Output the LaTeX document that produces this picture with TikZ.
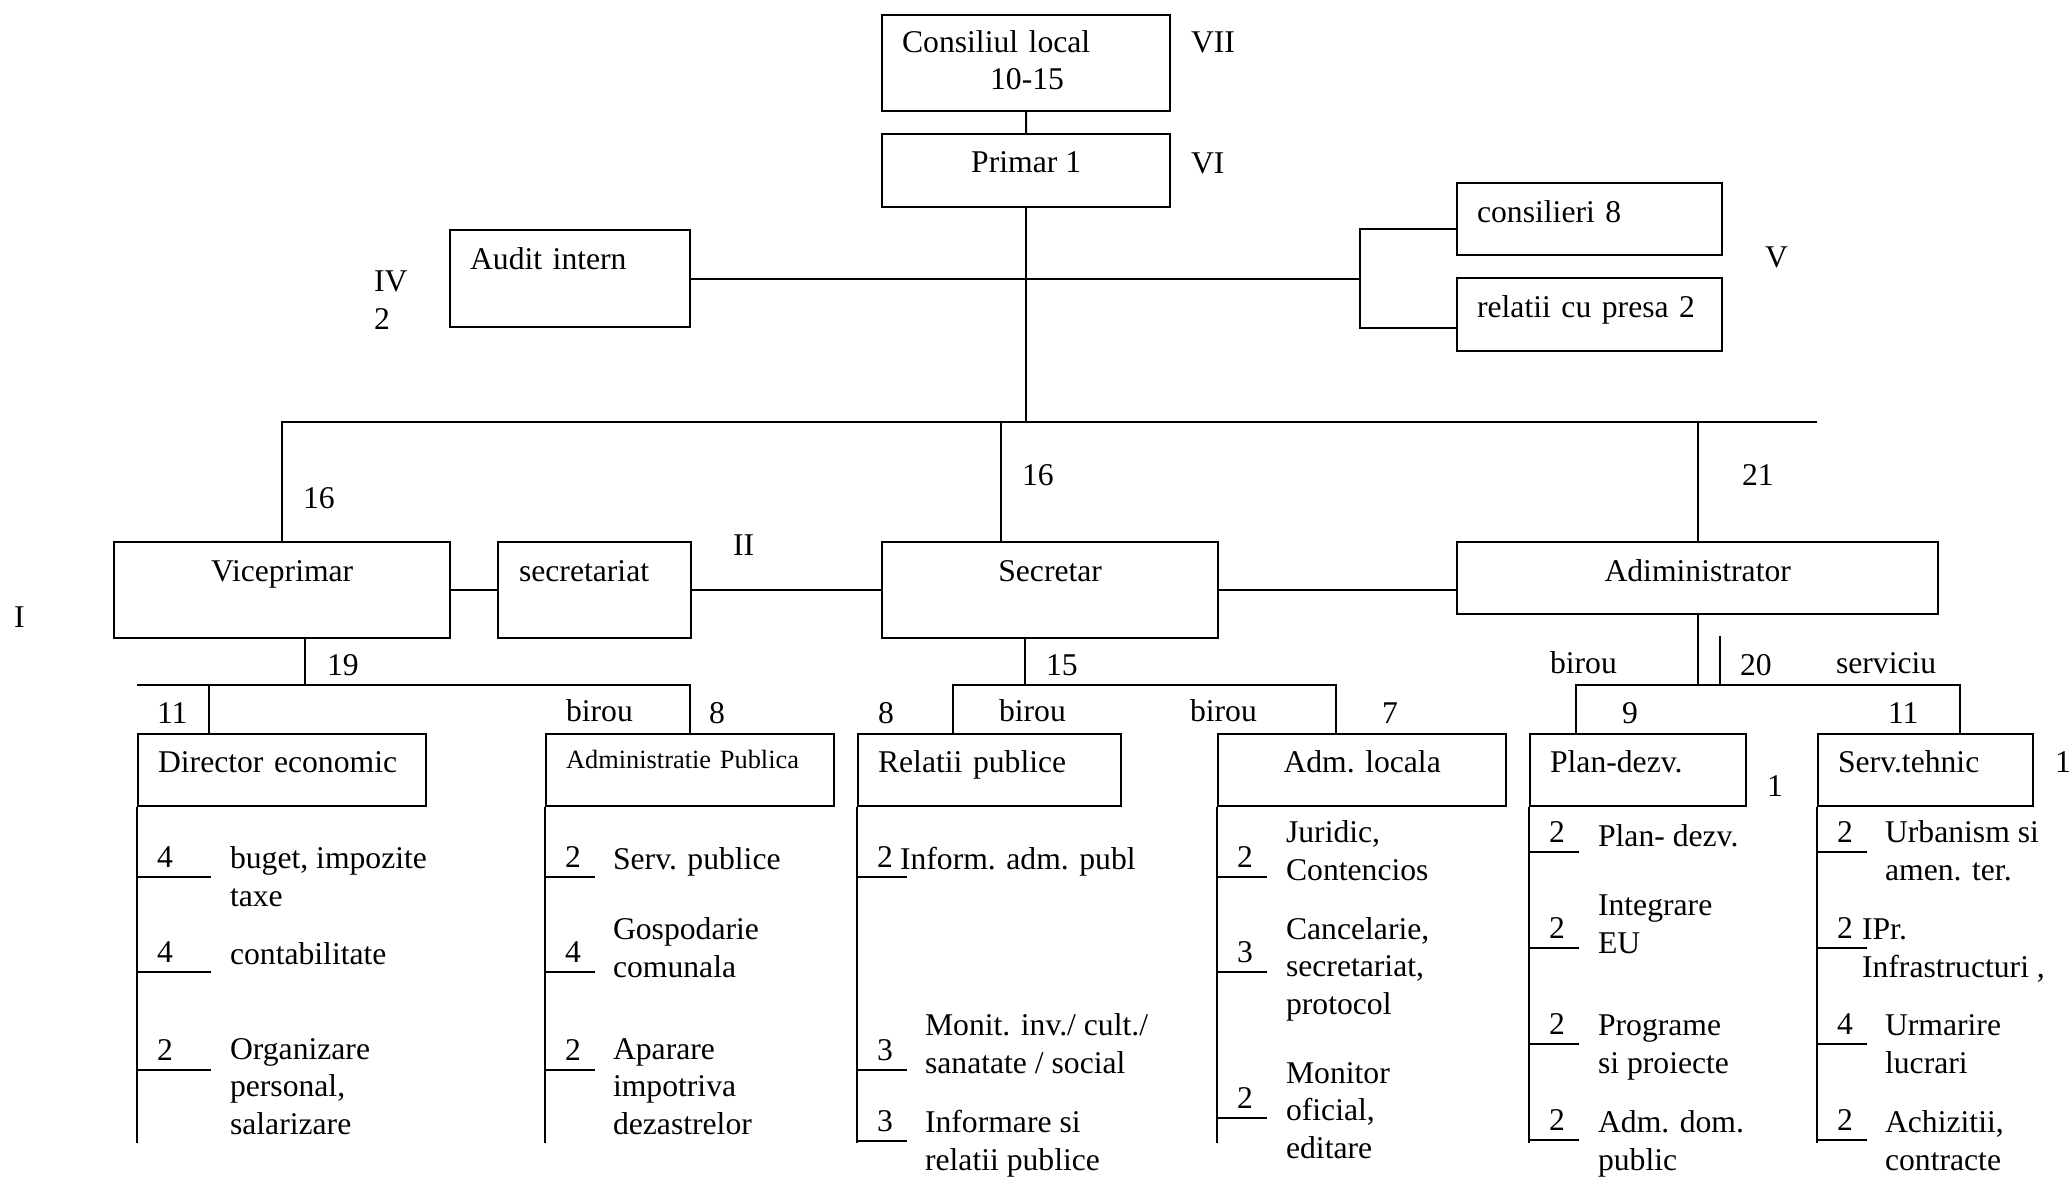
\documentclass[tikz,border=0pt]{standalone}
\usepackage{fontspec}
\setmainfont{Liberation Serif}

\begin{document}
\begin{tikzpicture}[x=0.01cm, y=-0.01cm, semithick,
		font=\fontsize{9}{10.6}\selectfont,
		box/.style={draw, anchor=north west, inner xsep=0.2cm, inner ysep=0pt, text height=0.39cm, align=left},
		lbl/.style={anchor=base west, inner sep=0pt, align=left},
		num/.style={anchor=south west, inner xsep=0.19cm, inner ysep=0pt, text depth=0.08cm, text width=#1, align=left},
		num/.default=0.10cm]
		\useasboundingbox (0,0) rectangle (2070,1185);
		% Nodes
		\node[box, text width=2.48cm, text height=0.37cm, text depth=0.59cm] (cl) at (881,14) {Consiliul local\\\hspace*{0.88cm}10-15};
		\node[box, minimum width=2.88cm, text height=0.38cm, text depth=0.35cm] (pr) at (881,133) {Primar 1};
		\node[box, text width=2.00cm, text depth=0.58cm] (au) at (449,229) {Audit intern};
		\node[box, text width=2.25cm, text depth=0.33cm] (cs) at (1456,182) {consilieri 8};
		\node[box, text width=2.25cm, text depth=0.34cm] (rc) at (1456,277) {relatii cu presa 2};
		\node[box, minimum width=3.36cm, text depth=0.57cm] (vp) at (113,541) {Viceprimar};
		\node[box, text width=1.51cm, inner xsep=0.21cm, text depth=0.57cm] (st) at (497,541) {secretariat};
		\node[box, minimum width=3.36cm, text depth=0.57cm] (sc) at (881,541) {Secretar};
		\node[box, minimum width=4.81cm, text depth=0.325cm] (ad) at (1456,541) {Adiministrator};
		\node[box, text width=2.48cm, text height=0.38cm, text depth=0.335cm] (de) at (137,733) {Director economic};
		\node[box, text width=2.48cm, text height=0.34cm, text depth=0.375cm, font=\fontsize{7.5}{9}\selectfont] (ap) at (545,733) {Administratie Publica};
		\node[box, text width=2.23cm, text height=0.38cm, text depth=0.335cm] (rp) at (857,733) {Relatii publice};
		\node[box, minimum width=2.88cm, text height=0.38cm, text depth=0.335cm] (al) at (1217,733) {Adm. locala};
		\node[box, text width=1.76cm, text height=0.38cm, text depth=0.335cm] (pd) at (1529,733) {Plan-dezv.};
		\node[box, text width=1.75cm, text height=0.38cm, text depth=0.335cm] (tz) at (1817,733) {Serv.tehnic};

		% Levels and staff numbers
		\node[lbl] (vii) at (1190,53) {VII};
		\node[lbl] (vi) at (1190,173) {VI};
		\node[lbl] (v) at (1764,268) {V};
		\node[lbl] (iv) at (373,329) {IV\\2};
		\node[lbl] (i) at (13,627) {I};
		\node[lbl] (ii) at (732,555) {II};
		\node[lbl] (nvp) at (302,508) {16};
		\node[lbl] (nsc) at (1021,485) {16};
		\node[lbl] (nad) at (1741,485) {21};
		\node[lbl] (nv) at (326,675) {19};
		\node[lbl] (nde) at (156,723) {11};
		\node[lbl] (bap) at (565,721) {birou};
		\node[lbl] (nap) at (708,723) {8};
		\node[lbl] (ns) at (1045,675) {15};
		\node[lbl] (nrp) at (877,723) {8};
		\node[lbl] (brp) at (998,721) {birou};
		\node[lbl] (bal) at (1189,721) {birou};
		\node[lbl] (nal) at (1381,723) {7};
		\node[lbl] (bpd) at (1549,673) {birou};
		\node[lbl] (na) at (1739,675) {20};
		\node[lbl] (stz) at (1835,673) {serviciu};
		\node[lbl] (npd) at (1621,723) {9};
		\node[lbl] (ntz) at (1887,723) {11};
		\node[lbl] (xpd) at (1766,796) {1};
		\node[lbl] (xtz) at (2054,772) {1};

		% Director economic
		\node[num=0.34cm] (de1) at (137,877) {4};
		\node[num=0.34cm] (de2) at (137,972) {4};
		\node[num=0.34cm] (de3) at (137,1070) {2};
		\node[lbl] (de1t) at (229,906) {buget, impozite\\taxe};
		\node[lbl] (de2t) at (229,964) {contabilitate};
		\node[lbl] (de3t) at (229,1134) {Organizare\\personal,\\salarizare};
		% Administratie Publica
		\node[num] (ap1) at (545,877) {2};
		\node[num] (ap2) at (545,972) {4};
		\node[num] (ap3) at (545,1070) {2};
		\node[lbl] (ap1t) at (612,869) {Serv. publice};
		\node[lbl] (ap2t) at (612,977) {Gospodarie\\comunala};
		\node[lbl] (ap3t) at (612,1134) {Aparare\\impotriva\\dezastrelor};
		% Relatii publice
		\node[num] (rp1) at (857,877) {2};
		\node[num] (rp2) at (857,1070) {3};
		\node[num] (rp3) at (857,1141) {3};
		\node[lbl] (rp1t) at (899,869) {Inform. adm. publ};
		\node[lbl] (rp2t) at (924,1073) {Monit. inv./ cult./\\sanatate / social};
		\node[lbl] (rp3t) at (924,1170) {Informare si\\relatii publice};
		% Adm. locala
		\node[num] (al1) at (1217,877) {2};
		\node[num] (al2) at (1217,972) {3};
		\node[num] (al3) at (1217,1118) {2};
		\node[lbl] (al1t) at (1285,880) {Juridic,\\Contencios};
		\node[lbl] (al2t) at (1285,1014) {Cancelarie,\\secretariat,\\protocol};
		\node[lbl] (al3t) at (1285,1158) {Monitor\\oficial,\\editare};
		% Plan-dezv.
		\node[num] (pd1) at (1529,852) {2};
		\node[num] (pd2) at (1529,948) {2};
		\node[num] (pd3) at (1529,1044) {2};
		\node[num] (pd4) at (1529,1140) {2};
		\node[lbl] (pd1t) at (1597,846) {Plan- dezv.};
		\node[lbl] (pd2t) at (1597,953) {Integrare\\EU};
		\node[lbl] (pd3t) at (1597,1073) {Programe\\si proiecte};
		\node[lbl] (pd4t) at (1597,1170) {Adm. dom.\\public};
		% Serv.tehnic
		\node[num] (tz1) at (1817,852) {2};
		\node[num] (tz2) at (1817,948) {2};
		\node[num] (tz3) at (1817,1044) {4};
		\node[num] (tz4) at (1817,1140) {2};
		\node[lbl] (tz1t) at (1884,880) {Urbanism si\\amen. ter.};
		\node[lbl] (tz2t) at (1861,977) {IPr.\\Infrastructuri ,};
		\node[lbl] (tz3t) at (1884,1073) {Urmarire\\lucrari};
		\node[lbl] (tz4t) at (1884,1170) {Achizitii,\\contracte};

		% Lines
		\coordinate (bus) at (1817,422);
		\coordinate (br) at (1360,277);
		\coordinate (s0) at (1001,422);
		\draw (cl) -- (pr);
		\draw (pr) -- (pr.south |- bus);
		\draw (vp.north) |- (bus);
		\draw (s0) -- (s0 |- sc.north);
		\draw (ad.north) -- (ad.north |- bus);
		\draw (au.east) -- (au.east -| br);
		\draw (cs.west |- au.north) -| (br) |- (rc.west |- au.south);
		\draw (vp) -- (st);
		\draw (st) -- (sc);
		\draw (sc.east) -- (sc.east -| ad.west);

		\coordinate (v0) at (305,685);
		\coordinate (v1) at (209,685);
		\coordinate (v2) at (690,685);
		\draw (v0 |- vp.south) -- (v0);
		\draw (de.north west |- v0) -- (v2) -- (v2 |- ap.north);
		\draw (v1) -- (v1 |- de.north);

		\coordinate (s1) at (1025,685);
		\coordinate (s2) at (953,685);
		\coordinate (s3) at (1336,685);
		\draw (s1 |- sc.south) -- (s1);
		\draw (s2 |- rp.north) -- (s2) -- (s3) -- (s3 |- al.north);

		\coordinate (a0) at (1720,636);
		\coordinate (a1) at (1576,685);
		\coordinate (a2) at (1960,685);
		\draw (ad.south) -- (ad.south |- a1);
		\draw (a0) -- (a0 |- a1);
		\draw (a1 |- pd.north) -- (a1) -- (a2) -- (a2 |- tz.north);

		\coordinate (bot) at (0,1143);
		\foreach \b in {de,ap,rp,al,pd,tz}
			\draw (\b.south west) -- (\b.south west |- bot);
		\foreach \n in {de1,de2,de3,ap1,ap2,ap3,rp1,rp2,rp3,al1,al2,al3,pd1,pd2,pd3,pd4,tz1,tz2,tz3,tz4}
			\draw (\n.south west) -- (\n.south east);
	\end{tikzpicture}
\end{document}
